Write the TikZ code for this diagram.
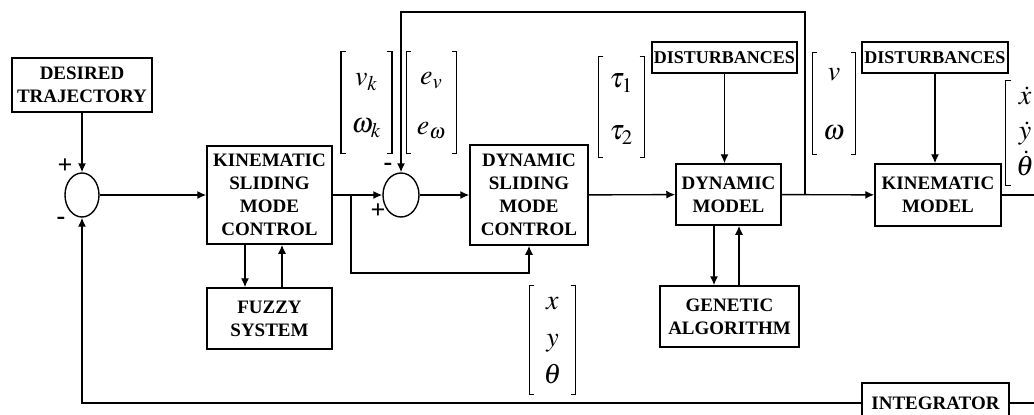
\documentclass[tikz,border=0pt]{standalone}
\usepackage{mathptmx}
\usepackage[no-math]{fontspec}
\setmainfont{Liberation Serif}
\usepackage{tikz}
\usetikzlibrary{shapes.geometric,arrows.meta,positioning}

\begin{document}
\begin{tikzpicture}[x=0.5pt,y=-0.5pt,
  >={Latex[length=4.5pt,width=4pt]},
  line width=0.7pt,
  block/.style={draw,line width=0.75pt,align=center,inner sep=0pt,font=\fontsize{9.5}{11.5}\selectfont\bfseries},
  sumnode/.style={draw,ellipse,minimum width=17pt,minimum height=22pt,inner sep=0pt},
  sign/.style={font=\fontsize{13}{14}\selectfont\bfseries,inner sep=0pt},
  vecnode/.style={inner sep=0pt,font=\fontsize{14}{17}\selectfont,
    append after command={(\tikzlastnode.north west) ++(2.5pt,0) -- (\tikzlastnode.north west)
      -- (\tikzlastnode.south west) -- ++(2.5pt,0)
      (\tikzlastnode.north east) ++(-2.5pt,0) -- (\tikzlastnode.north east)
      -- (\tikzlastnode.south east) -- ++(-2.5pt,0)}},
  bracket/.style={line width=0.6pt}]
\useasboundingbox (0,0) rectangle (1034,414);
\clip (0,0) rectangle (1034,414);

% blocks
\node[block,minimum width=70pt,minimum height=27pt] (desired) at (82,85) {DESIRED\\TRAJECTORY};
\node[sumnode] (sum1) at (82,195) {};
\node[block,minimum width=62.5pt,minimum height=49pt] (ksmc) at (269.5,195) {KINEMATIC\\SLIDING\\MODE\\CONTROL};
\node[block,minimum width=62.5pt,minimum height=30.5pt] (fuzzy) at (269.5,318.5) {FUZZY\\SYSTEM};
\node[sumnode,minimum width=18pt] (sum2) at (401,195) {};
\node[block,minimum width=59pt,minimum height=50pt] (dsmc) at (529,195) {DYNAMIC\\SLIDING\\MODE\\CONTROL};
\node[block,minimum width=72.5pt,minimum height=15.5pt,font=\fontsize{9}{10}\selectfont\bfseries] (dist1) at (724.5,57.5) {DISTURBANCES};
\node[block,minimum width=52.5pt,minimum height=30.5pt] (dyn) at (728.5,194.5) {DYNAMIC\\MODEL};
\node[block,minimum width=69.5pt,minimum height=30.5pt] (ga) at (729.5,316.5) {GENETIC\\ALGORITHM};
\node[block,minimum width=73pt,minimum height=15.5pt,font=\fontsize{9}{10}\selectfont\bfseries] (dist2) at (935,57.5) {DISTURBANCES};
\node[block,minimum width=63pt,minimum height=31pt] (kin) at (938,195) {KINEMATIC\\MODEL};
\node[block,minimum width=73.5pt,minimum height=20pt] (integ) at (935.5,403) {INTEGRATOR};

% signs
\node[sign] (p1) at (65,166) {+};
\node[sign] (m1) at (61,221) {-};
\node[sign] (m2) at (388,167) {-};
\node[sign] (p2) at (378,211) {+};

% vectors
\draw[bracket] (366.5,102.5) node[vecnode,minimum width=23.5pt,minimum height=50.5pt] (vkwk)
  {$\begin{array}{c} v_k\\[6.5pt] \omega_k\end{array}$};
\draw[bracket] (431.5,102.5) node[vecnode,minimum width=23.5pt,minimum height=50.5pt] (evew)
  {$\begin{array}{c} e_v\\[8pt] e_\omega\end{array}$};
\draw[bracket] (621.5,107) node[vecnode,minimum width=22.5pt,minimum height=50pt] (tau)
  {$\begin{array}{c} \tau_1\\[9pt] \tau_2\end{array}$};
\draw[bracket] (834,103.5) node[vecnode,minimum width=21pt,minimum height=50.5pt] (vw)
  {$\begin{array}{c} v\\[12.5pt] \omega\end{array}$};
\draw[bracket] (552.5,340) node[vecnode,minimum width=22.5pt,minimum height=53pt] (xyt)
  {$\begin{array}{c} x\\[1.5pt] y\\[1.5pt] \theta\end{array}$};
\draw[bracket] (1025,133) node[vecnode,minimum width=14pt,minimum height=49pt] (dxyt)
  {$\begin{array}{c} \dot x\\[0.5pt] \dot y\\[0.5pt] \dot\theta\end{array}$};

% connectors
\coordinate (split) at (351,195);
\coordinate (lowbend) at (351,273);
\coordinate (tap) at (805,195);
\coordinate (topbend) at (805,12);
\coordinate (outend) at (1034,195);
\coordinate (fbend) at (82,403);
\coordinate (fbout) at (1034,403);
\draw[->] (desired) -- (sum1);
\draw[->] (sum1) -- (ksmc);
\draw[->] (ksmc) -- (sum2);
\draw[->] (split) -- (lowbend) -| (dsmc.south);
\draw[->] (sum2) -- (dsmc);
\draw[->] (dsmc) -- (dyn);
\draw[->] (dyn) -- (kin);
\draw[->] (tap) -- (topbend) -| (sum2.north);
\draw[->] (dist1.south) -- (dist1.south |- dyn.north);
\draw[->] (dist2.south) -- (dist2.south |- kin.north);
\draw (kin) -- (outend);
\draw[->] ([xshift=-12.25pt]ksmc.south) -- ([xshift=-12.25pt]fuzzy.north);
\draw[->] ([xshift=6.25pt]fuzzy.north) -- ([xshift=6.25pt]ksmc.south);
\draw[->] ([xshift=-7.25pt]dyn.south) -- ([xshift=-7.25pt]dyn.south |- ga.north);
\draw[->] ([xshift=5.25pt]dyn.south |- ga.north) -- ([xshift=5.25pt]dyn.south);
\draw (integ) -- (fbout);
\draw[->] (integ) -- (fbend) -- (sum1);
\end{tikzpicture}
\end{document}
